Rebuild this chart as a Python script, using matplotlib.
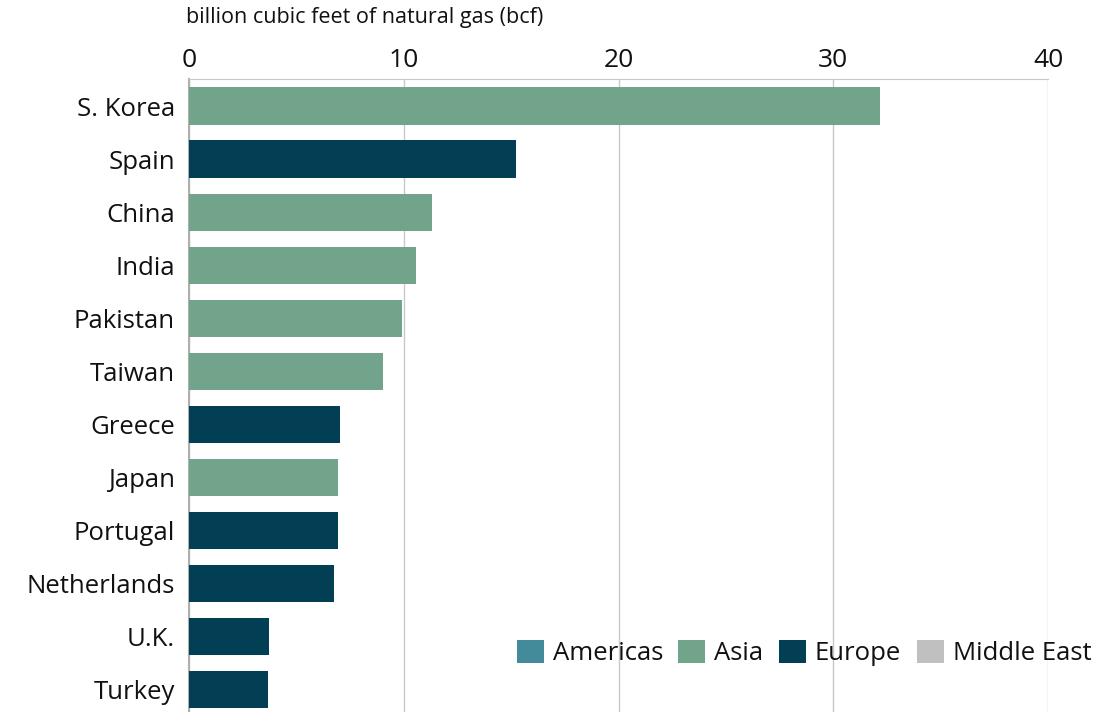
import matplotlib.pyplot as plt
from matplotlib.patches import Patch

plt.rcParams['font.family'] = ['Open Sans', 'DejaVu Sans']

countries = ["S. Korea", "Spain", "China", "India", "Pakistan", "Taiwan",
             "Greece", "Japan", "Portugal", "Netherlands", "U.K.", "Turkey"]
values = [32.2, 15.25, 11.3, 10.55, 9.9, 9.05, 7.05, 6.95, 6.95, 6.75, 3.72, 3.68]
regions = ["Asia", "Europe", "Asia", "Asia", "Asia", "Asia",
           "Europe", "Asia", "Europe", "Europe", "Europe", "Europe"]

region_names = ["Americas", "Asia", "Europe", "Middle East"]
region_colors = {"Americas": "#438a9a", "Asia": "#72a38b",
                 "Europe": "#023f55", "Middle East": "#c0c0c0"}

fig = plt.figure(figsize=(11.04, 7.12), dpi=100)
ax = fig.add_axes([189 / 1104, 0, (1048 - 189) / 1104, 1 - 79 / 712])

ypos = range(len(countries))
ax.barh(ypos, values, height=0.7, color=[region_colors[r] for r in regions], zorder=3)

ax.set_ylim(len(countries) - 0.57, -0.51)
ax.set_xlim(0, 40)
ax.set_yticks(list(ypos))
ax.set_yticklabels(countries, fontsize=18.5)
ax.set_xticks([0, 10, 20, 30, 40])
ax.xaxis.tick_top()
ax.tick_params(axis='x', labelsize=19, length=0, pad=4, colors='#111111')
ax.tick_params(axis='y', length=0, pad=10, colors='#111111')
ax.grid(axis='x', color='#c8c8c8', linewidth=1, zorder=0)

for s in ['right', 'bottom']:
    ax.spines[s].set_visible(False)
ax.spines['top'].set_color('#c8c8c8')
ax.spines['left'].set_color('#b0b0b0')
ax.spines['left'].set_linewidth(1.5)

fig.text(186 / 1104, 1 - 18 / 712, "billion cubic feet of natural gas (bcf)",
         fontsize=15.5, ha='left', va='center', color='#111111')

handles = [Patch(facecolor=region_colors[r], label=r) for r in region_names]
fig.legend(handles=handles, loc='center right', bbox_to_anchor=(1.0, 1 - 653 / 712),
           ncol=4, frameon=False, fontsize=18.5, handlelength=1.05, handleheight=1.05,
           handletextpad=0.35, columnspacing=0.6, borderaxespad=0.1,
           labelcolor='#111111')

fig.savefig("out.png", dpi=100, facecolor='white')
